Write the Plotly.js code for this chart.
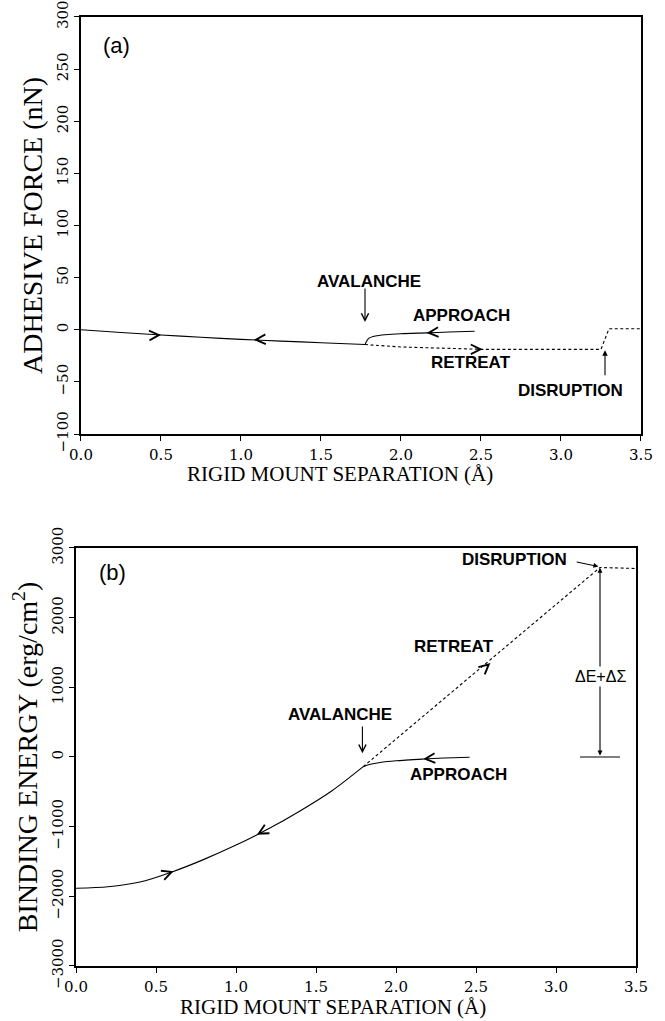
<!DOCTYPE html>
<html>
<head>
<meta charset="utf-8">
<script src="https://cdn.plot.ly/plotly-3.0.1.min.js"></script>
<style>html,body{margin:0;padding:0;background:#fff;}</style>
</head>
<body>
<div id="chart" style="width:665px;height:1021px;"></div>
<script>
// ---------- Panel (a): adhesive force (nN) vs rigid mount separation (Å) ----------
const aSolidX = [0, 0.25, 0.5, 0.75, 1.0, 1.25, 1.5, 1.775];
const aSolidY = [0, -2.6, -5.0, -7.2, -9.2, -10.9, -12.4, -14.2];
const aApproachX = [2.46, 2.3, 2.16, 2.0, 1.9, 1.84, 1.80, 1.785, 1.775];
const aApproachY = [-1.5, -2.2, -3.0, -3.8, -4.8, -6.0, -8.0, -11.0, -14.2];
const aRetreatX = [1.775, 2.0, 2.51, 3.0, 3.25, 3.30, 3.5];
const aRetreatY = [-14.2, -16.5, -18.8, -18.8, -18.8, 1.0, 1.0];
const aYTicks = [-100, -50, 0, 50, 100, 150, 200, 250, 300];

// ---------- Panel (b): binding energy (erg/cm^2) vs rigid mount separation ----------
const bSolidX = [0, 0.2, 0.4, 0.6, 0.8, 1.0, 1.2, 1.4, 1.6, 1.795];
const bSolidY = [-1885, -1863, -1795, -1650, -1470, -1265, -1035, -775, -485, -139];
const bApproachX = [2.46, 2.3, 2.17, 2.0, 1.9, 1.84, 1.795];
const bApproachY = [-5, -15, -30, -55, -80, -105, -139];
const bRetreatX = [1.795, 3.275, 3.5];
const bRetreatY = [-139, 2720, 2705];
const bBaseX = [3.15, 3.4];
const bBaseY = [0, 0];
const bYTicks = [-3000, -2000, -1000, 0, 1000, 2000, 3000];

const xTicks = [0, 0.5, 1.0, 1.5, 2.0, 2.5, 3.0, 3.5];
const xTickText = ['0.0', '0.5', '1.0', '1.5', '2.0', '2.5', '3.0', '3.5'];
const xTitle = 'RIGID MOUNT SEPARATION (Å)';

const solid = {color: '#000', width: 1.1};
const curved = {color: '#000', width: 1.1, shape: 'spline', smoothing: 0.8};
const dashed = {color: '#000', width: 1.1, dash: '3px,2.5px'};

const traces = [
  {x: aSolidX, y: aSolidY, xaxis: 'x', yaxis: 'y', mode: 'lines', line: curved},
  {x: aApproachX, y: aApproachY, xaxis: 'x', yaxis: 'y', mode: 'lines', line: curved},
  {x: aRetreatX, y: aRetreatY, xaxis: 'x', yaxis: 'y', mode: 'lines', line: dashed},
  {x: bSolidX, y: bSolidY, xaxis: 'x2', yaxis: 'y2', mode: 'lines', line: curved},
  {x: bApproachX, y: bApproachY, xaxis: 'x2', yaxis: 'y2', mode: 'lines', line: curved},
  {x: bRetreatX, y: bRetreatY, xaxis: 'x2', yaxis: 'y2', mode: 'lines', line: dashed},
  {x: bBaseX, y: bBaseY, xaxis: 'x2', yaxis: 'y2', mode: 'lines', line: solid}
];

const serif = 'DejaVu Serif, serif';
const titleSerif = 'Liberation Serif, Times New Roman, serif';
const sans = 'Liberation Sans, Arial, sans-serif';

function xax(anchor, domain) {
  return {
    anchor: anchor, domain: domain, range: [0, 3.5], tickvals: xTicks, ticktext: xTickText,
    ticks: 'outside', ticklen: 5, tickwidth: 1, tickcolor: '#000', ticklabelstandoff: 1,
    ticklabeloverflow: 'allow',
    showline: true, linecolor: '#000', linewidth: 2, mirror: true,
    showgrid: false, zeroline: false, automargin: false,
    tickfont: {family: serif, size: 15, color: '#000'}
  };
}
function yax(anchor, range, ticks, domain, title) {
  return {
    anchor: anchor, range: range, tickvals: ticks, domain: domain,
    ticks: 'outside', ticklen: 5, tickwidth: 1, tickcolor: '#000', tickangle: -90,
    ticklabeloverflow: 'allow',
    showline: true, linecolor: '#000', linewidth: 2, mirror: true,
    showgrid: false, zeroline: false, automargin: false,
    tickfont: {family: serif, size: 15, color: '#000'},
    title: {text: title, font: {family: titleSerif, size: 28, color: '#000'}, standoff: 3}
  };
}

const lbl = {family: sans, size: 17, color: '#000', weight: 'bold'};
function txt(xref, yref, x, y, text, extra) {
  return Object.assign({xref: xref, yref: yref, x: x, y: y, text: text, showarrow: false,
    font: lbl, xanchor: 'center', yanchor: 'middle'}, extra || {});
}
function arr(xref, yref, x, y, ax, ay, extra) {
  return Object.assign({xref: xref, yref: yref, x: x, y: y, ax: ax, ay: ay, axref: xref, ayref: yref,
    text: '', showarrow: true, arrowhead: 5, arrowsize: 1.3, arrowwidth: 1.1, arrowcolor: '#000', standoff: 0}, extra || {});
}
// short direction arrowheads sitting on the curves (pixel offsets give the direction)
function head(xref, yref, x, y, ax, ay) {
  return {xref: xref, yref: yref, x: x, y: y, ax: ax, ay: ay, text: '', showarrow: true,
    arrowhead: 5, arrowsize: 1.9, arrowwidth: 1, arrowcolor: '#000', standoff: 0};
}
const xTitleFont = {family: titleSerif, size: 21, color: '#000'};

const annotations = [
  // x-axis titles (placed slightly left of centre, as in the original)
  txt('paper', 'paper', 340 / 665, (1021 - 474) / 1021, xTitle, {font: xTitleFont}),
  txt('paper', 'paper', 333 / 665, (1021 - 1007) / 1021, xTitle, {font: xTitleFont}),
  // panel (a)
  txt('x', 'y', 0.22, 273, '(a)', {font: {family: sans, size: 22, color: '#000'}}),
  txt('x', 'y', 1.80, 46, 'AVALANCHE'),
  arr('x', 'y', 1.775, 7.4, 1.775, 41),
  txt('x', 'y', 2.38, 14, 'APPROACH'),
  txt('x', 'y', 2.44, -31, 'RETREAT'),
  txt('x', 'y', 3.06, -58, 'DISRUPTION'),
  arr('x', 'y', 3.275, -19.7, 3.275, -45, {arrowhead: 2, arrowsize: 1}),
  head('x', 'y', 0.5, -5.0, -6, 0.3),
  head('x', 'y', 1.08, -9.7, 6, -0.3),
  head('x', 'y', 2.16, -3.0, 6, -0.4),
  head('x', 'y', 2.51, -18.8, -6, 0),
  // panel (b)
  txt('x2', 'y2', 0.23, 2641, '(b)', {font: {family: sans, size: 22, color: '#000'}}),
  txt('x2', 'y2', 1.65, 603, 'AVALANCHE'),
  arr('x2', 'y2', 1.79, 53, 1.79, 459),
  txt('x2', 'y2', 2.39, -258, 'APPROACH'),
  txt('x2', 'y2', 2.36, 1584, 'RETREAT'),
  txt('x2', 'y2', 2.74, 2828, 'DISRUPTION'),
  arr('x2', 'y2', 3.265, 2735, 3.12, 2804, {arrowhead: 2, arrowsize: 0.9}),
  arr('x2', 'y2', 3.275, 2715, 3.275, 0, {arrowhead: 2, arrowsize: 0.9, arrowside: 'end+start'}),
  txt('x2', 'y2', 3.28, 1153, 'ΔE+ΔΣ', {font: {family: sans, size: 16, color: '#000'}, bgcolor: '#fff'}),
  head('x2', 'y2', 0.61, -1640, -6, 2.2),
  head('x2', 'y2', 1.13, -1115, 6, -3.3),
  head('x2', 'y2', 2.17, -30, 6, -0.5),
  head('x2', 'y2', 2.59, 1349, -4.8, 4.2)
];

const layout = {
  width: 665, height: 1021,
  margin: {l: 0, r: 0, t: 0, b: 0},
  paper_bgcolor: '#fff', plot_bgcolor: '#fff',
  showlegend: false,
  font: {family: serif, color: '#000'},
  xaxis: xax('y', [0.1218, 0.9639]),
  yaxis: yax('x', [-100, 300], aYTicks, [0.5749, 0.9834], 'ADHESIVE FORCE (nN)'),
  xaxis2: xax('y2', [0.1143, 0.9564]),
  yaxis2: yax('x2', [-3000, 3000], bYTicks, [0.0539, 0.4633], 'BINDING ENERGY (erg/cm<sup>2</sup>)'),
  annotations: annotations
};

Plotly.newPlot('chart', traces, layout, {displayModeBar: false, staticPlot: true});
</script>
</body>
</html>
